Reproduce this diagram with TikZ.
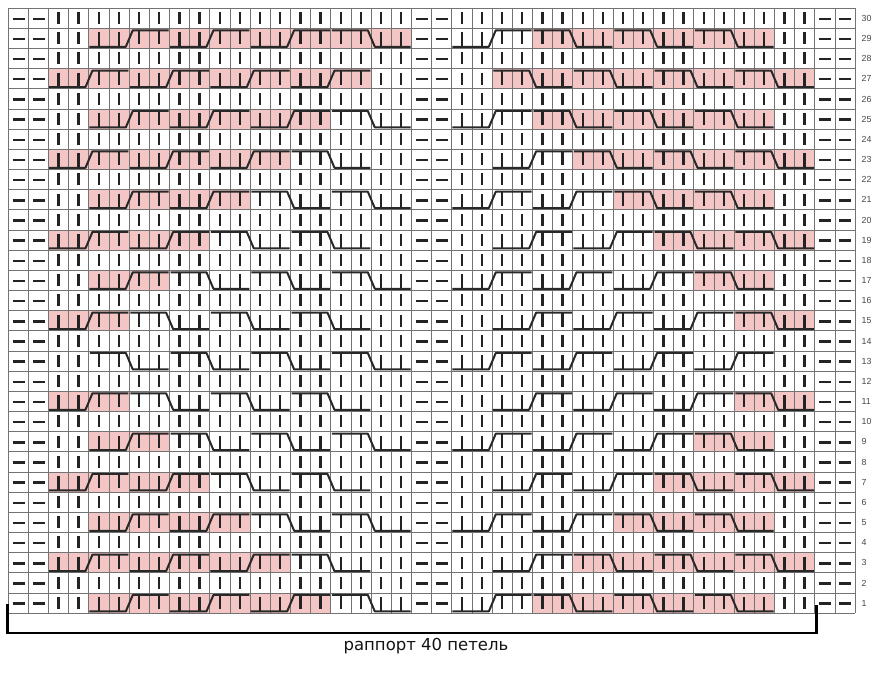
\documentclass[tikz,border=0pt]{standalone}
\usepackage{fontspec}
\newfontfamily\labfont{DejaVu Sans}
\newfontfamily\numfont{Liberation Sans}
\definecolor{pinkc}{RGB}{243,197,197}
\definecolor{gridc}{RGB}{115,115,115}
\definecolor{symc}{RGB}{35,35,35}
\definecolor{cabc}{RGB}{40,40,40}
\definecolor{numc}{RGB}{70,70,70}
\begin{document}
\begin{tikzpicture}[x=1pt,y=-1pt,
  gridline/.style={draw=gridc,line width=1pt},
  knitbar/.style={draw=symc,line width=2.3pt},
  purldash/.style={draw=symc,line width=2.4pt},
  cableline/.style={draw=cabc,line width=2pt,line join=round},
  bracketline/.style={draw=black,line width=2.4pt},
  rownum/.style={font=\numfont\fontsize{8.8}{10}\selectfont,text=numc,anchor=west,inner sep=0pt},
  caption/.style={font=\labfont\fontsize{16.5}{20}\selectfont,text=black!92,inner sep=0pt}]
\useasboundingbox (0,0) rectangle (883,700);
\fill[white] (0,0) rectangle (883,700);
\def\W{20.167}
\def\OX{8.3}
\def\OY{8.3}
\def\cables{%
29/{4/1/1,8/1/1,12/1/1,16/0/1,22/1/0,26/0/1,30/0/1,34/0/1},%
27/{2/1/1,6/1/1,10/1/1,14/1/1,24/0/1,28/0/1,32/0/1,36/0/1},%
25/{4/1/1,8/1/1,12/1/1,16/0/0,22/1/0,26/0/1,30/0/1,34/0/1},%
23/{2/1/1,6/1/1,10/1/1,14/0/0,24/1/0,28/0/1,32/0/1,36/0/1},%
21/{4/1/1,8/1/1,12/0/0,16/0/0,22/1/0,26/1/0,30/0/1,34/0/1},%
19/{2/1/1,6/1/1,10/0/0,14/0/0,24/1/0,28/1/0,32/0/1,36/0/1},%
17/{4/1/1,8/0/0,12/0/0,16/0/0,22/1/0,26/1/0,30/1/0,34/0/1},%
15/{2/1/1,6/0/0,10/0/0,14/0/0,24/1/0,28/1/0,32/1/0,36/0/1},%
13/{4/0/0,8/0/0,12/0/0,16/0/0,22/1/0,26/1/0,30/1/0,34/1/0},%
11/{2/1/1,6/0/0,10/0/0,14/0/0,24/1/0,28/1/0,32/1/0,36/0/1},%
9/{4/1/1,8/0/0,12/0/0,16/0/0,22/1/0,26/1/0,30/1/0,34/0/1},%
7/{2/1/1,6/1/1,10/0/0,14/0/0,24/1/0,28/1/0,32/0/1,36/0/1},%
5/{4/1/1,8/1/1,12/0/0,16/0/0,22/1/0,26/1/0,30/0/1,34/0/1},%
3/{2/1/1,6/1/1,10/1/1,14/0/0,24/1/0,28/0/1,32/0/1,36/0/1},%
1/{4/1/1,8/1/1,12/1/1,16/0/0,22/1/0,26/0/1,30/0/1,34/0/1}}
% pink fills
\foreach \r/\cl in \cables {
  \pgfmathsetmacro\rt{\OY+(30-\r)*\W}
  \foreach \ca/\di/\pk in \cl {
    \ifnum\pk=1
      \pgfmathsetmacro\xa{\OX+\ca*\W}
      \pgfmathsetmacro\xe{\xa+4*\W}
      \pgfmathsetmacro\rb{\rt+\W}
      \fill[pinkc] (\xa,\rt) rectangle (\xe,\rb);
    \fi
  }
}
% grid
\foreach \i in {0,...,42} {
  \pgfmathsetmacro\gx{\OX+\i*\W}
  \pgfmathsetmacro\gy{\OY+30*\W}
  \draw[gridline] (\gx,\OY) -- (\gx,\gy);
}
\foreach \j in {0,...,30} {
  \pgfmathsetmacro\gy{\OY+\j*\W}
  \pgfmathsetmacro\gx{\OX+42*\W}
  \draw[gridline] (\OX,\gy) -- (\gx,\gy);
}
% purl dashes
\foreach \ca in {0,1,20,21,40,41} {
  \foreach \j in {0,...,29} {
    \pgfmathsetmacro\xa{\OX+\ca*\W+4.3}
    \pgfmathsetmacro\xb{\xa+12}
    \pgfmathsetmacro\yy{\OY+\j*\W+10.5}
    \draw[purldash] (\xa,\yy) -- (\xb,\yy);
  }
}
% knit bars
\foreach \h in {0,20} {
  \foreach \k in {2,...,19} {
    \foreach \j in {0,...,29} {
      \pgfmathsetmacro\xx{\OX+(\h+\k)*\W+9.8}
      \pgfmathsetmacro\ya{\OY+\j*\W+3.8}
      \pgfmathsetmacro\yb{\ya+12}
      \draw[knitbar] (\xx,\ya) -- (\xx,\yb);
    }
  }
}
% cables
\foreach \r/\cl in \cables {
  \pgfmathsetmacro\rt{\OY+(30-\r)*\W}
  \pgfmathsetmacro\yt{\rt+1.8}
  \pgfmathsetmacro\yb{\rt+18.3}
  \pgfmathsetmacro\ybt{\rt+4}
  \pgfmathsetmacro\ybb{\rt+15.5}
  \foreach \ca/\di/\pk in \cl {
    \pgfmathsetmacro\xa{\OX+\ca*\W}
    \pgfmathsetmacro\xm{\xa+2*\W}
    \pgfmathsetmacro\xe{\xa+4*\W}
    \pgfmathsetmacro\ba{\xa+9.8}
    \pgfmathsetmacro\bb{\xa+\W+9.8}
    \pgfmathsetmacro\bc{\xm+9.8}
    \pgfmathsetmacro\bd{\xm+\W+9.8}
    \ifnum\di=1
      \draw[knitbar] (\ba,\ybb) -- (\ba,\yb) (\bb,\ybb) -- (\bb,\yb) (\bc,\yt) -- (\bc,\ybt) (\bd,\yt) -- (\bd,\ybt);
      \draw[cableline] (\xa+0.5,\yb) -- (\xm-3.5,\yb) -- (\xm+3.5,\yt) -- (\xe-1,\yt);
    \else
      \draw[knitbar] (\ba,\yt) -- (\ba,\ybt) (\bb,\yt) -- (\bb,\ybt) (\bc,\ybb) -- (\bc,\yb) (\bd,\ybb) -- (\bd,\yb);
      \draw[cableline] (\xa+1,\yt) -- (\xm-3.5,\yt) -- (\xm+3.5,\yb) -- (\xe-1,\yb);
    \fi
  }
}
% row numbers
\foreach \r in {1,...,30} {
  \pgfmathsetmacro\yy{\OY+(30-\r)*\W+\W/2}
  \node[rownum] (n\r) at (861.5,\yy) {\r};
}
% bracket
\coordinate (bl) at (7.5,604);
\coordinate (br) at (816.5,605);
\draw[bracketline] (bl) -- (7.5,633) -- (816.5,633) -- (br);
\node[caption] (rapport) at (426,646) {раппорт 40 петель};
\end{tikzpicture}
\end{document}
